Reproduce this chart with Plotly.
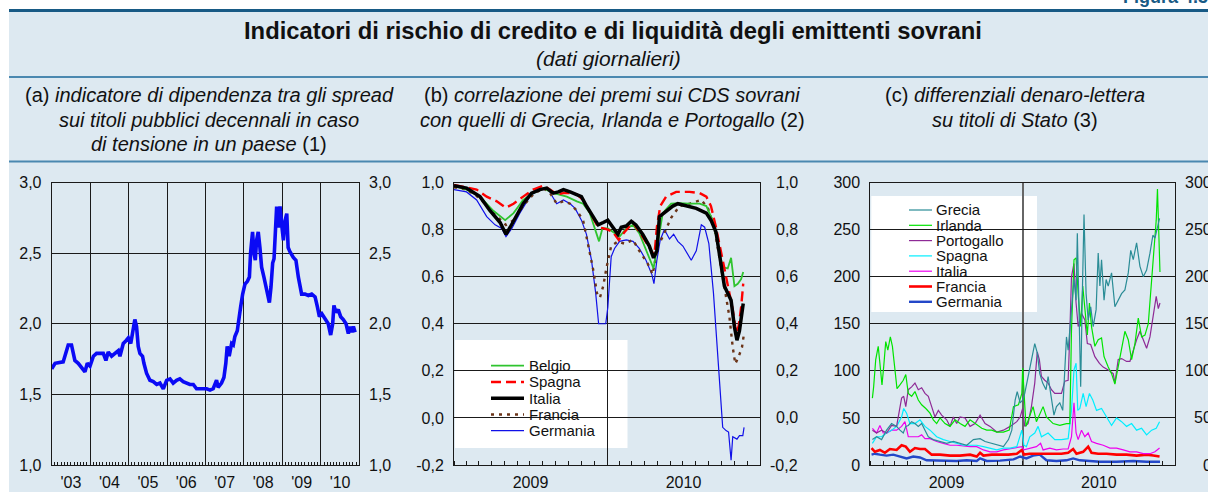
import plotly.graph_objects as go

W, H = 1208, 492
FONT = "Liberation Sans, Arial, Helvetica, sans-serif"

# ---------------- data: panel (a) ----------------
A_DATES = ["2003-01-01","2003-02-02","2003-04-20","2003-06-07","2003-07-08","2003-08-09","2003-09-10","2003-10-27","2003-11-13","2003-12-05","2003-12-31",
           "2004-02-01","2004-03-02","2004-04-03","2004-05-05","2004-05-30","2004-06-21","2004-07-23","2004-08-24","2004-09-25","2004-10-10","2004-11-11","2004-12-07","2004-12-29",
           "2005-01-21","2005-02-09","2005-03-01","2005-03-17","2005-04-02","2005-04-18","2005-05-13","2005-05-26","2005-06-20","2005-07-22","2005-08-23","2005-09-24","2005-10-25","2005-11-26","2005-12-28",
           "2006-01-29","2006-02-28","2006-04-01","2006-05-02","2006-06-03","2006-07-05","2006-08-06","2006-09-07","2006-10-08","2006-11-09","2006-12-11",
           "2007-01-12","2007-02-13","2007-03-15","2007-04-16","2007-05-01","2007-06-02","2007-06-25","2007-07-13","2007-07-26","2007-08-14","2007-09-06","2007-09-22","2007-10-07","2007-10-30","2007-11-18","2007-12-01","2007-12-20",
           "2008-01-11","2008-02-03","2008-02-22","2008-03-04","2008-03-23","2008-04-05","2008-04-18","2008-04-30","2008-05-16","2008-06-01","2008-06-17","2008-07-09","2008-08-04","2008-08-30","2008-09-14","2008-09-30","2008-10-13","2008-10-25","2008-11-07","2008-11-23","2008-12-09","2008-12-28",
           "2009-01-10","2009-01-26","2009-02-11","2009-02-24","2009-03-13","2009-04-14","2009-05-09","2009-06-01","2009-07-02","2009-08-03","2009-09-04","2009-10-06","2009-11-07","2009-11-29","2009-12-18",
           "2010-01-10","2010-01-26","2010-02-20","2010-03-12","2010-04-04","2010-04-23","2010-05-05","2010-05-24","2010-06-15","2010-07-08","2010-08-02","2010-08-28","2010-09-19","2010-10-05","2010-10-20","2010-11-06","2010-11-22"]
A_VALUES = [1.68,1.72,1.73,1.85,1.85,1.74,1.72,1.67,1.66,1.72,1.70,
            1.77,1.79,1.79,1.79,1.74,1.80,1.77,1.79,1.81,1.77,1.86,1.88,1.90,
            1.86,1.95,2.03,1.98,1.84,1.79,1.77,1.72,1.65,1.60,1.59,1.57,1.58,1.54,1.60,
            1.61,1.58,1.60,1.61,1.59,1.58,1.57,1.57,1.54,1.54,1.54,
            1.54,1.53,1.54,1.60,1.55,1.58,1.62,1.72,1.84,1.77,1.86,1.85,1.91,1.95,2.07,2.12,2.21,
            2.28,2.30,2.33,2.50,2.65,2.50,2.45,2.59,2.65,2.54,2.40,2.33,2.23,2.15,2.26,2.43,2.46,2.71,2.83,2.68,2.83,2.68,
            2.59,2.73,2.78,2.54,2.51,2.47,2.45,2.33,2.21,2.21,2.20,2.21,2.19,2.12,2.05,
            2.07,2.05,2.03,2.00,1.92,2.00,2.13,2.08,2.10,2.05,2.03,2.00,1.93,1.98,1.94,1.98,1.94]
A_YTICKS = [1.0, 1.5, 2.0, 2.5, 3.0]

# ---------------- data: panel (b) ----------------
B_BELGIO_DATES = ["2009-01-01","2009-01-31","2009-03-04","2009-04-05","2009-05-03","2009-05-23","2009-06-15","2009-07-09","2009-08-02","2009-08-26","2009-09-07","2009-09-27","2009-10-21","2009-11-05","2009-11-21","2009-12-03","2009-12-13","2009-12-21",
                  "2010-01-03","2010-01-19","2010-01-31","2010-02-16","2010-03-04","2010-03-19","2010-04-08","2010-04-22","2010-05-02","2010-05-14","2010-06-03","2010-06-23","2010-07-17","2010-08-10","2010-08-26","2010-09-10","2010-09-22","2010-10-04","2010-10-16","2010-10-24","2010-11-01","2010-11-09","2010-11-17","2010-11-22"]
B_BELGIO = [0.986,0.97,0.94,0.88,0.84,0.87,0.926,0.955,0.976,0.955,0.95,0.94,0.92,0.91,0.87,0.80,0.75,0.805,
            0.805,0.785,0.77,0.805,0.82,0.785,0.70,0.635,0.74,0.87,0.91,0.912,0.91,0.91,0.90,0.84,0.74,0.64,0.635,0.68,0.56,0.57,0.59,0.62]

B_SPAGNA_DATES = ["2009-01-01","2009-01-31","2009-02-24","2009-03-20","2009-04-13","2009-05-05","2009-05-23","2009-06-15","2009-07-09","2009-08-02","2009-08-18","2009-09-03","2009-09-19","2009-10-05","2009-10-21","2009-11-05","2009-11-25","2009-12-11","2009-12-24",
                  "2010-01-03","2010-01-15","2010-01-29","2010-02-12","2010-03-04","2010-03-23","2010-04-12","2010-04-24","2010-04-30","2010-05-08","2010-05-22","2010-06-15","2010-07-17","2010-08-10","2010-08-26","2010-09-06","2010-09-18","2010-09-30","2010-10-08","2010-10-20","2010-10-28","2010-11-05","2010-11-11","2010-11-17","2010-11-22"]
B_SPAGNA = [0.99,0.98,0.97,0.94,0.92,0.893,0.91,0.94,0.97,0.986,0.97,0.95,0.955,0.955,0.95,0.926,0.86,0.81,0.805,
            0.80,0.79,0.756,0.79,0.83,0.78,0.72,0.69,0.81,0.90,0.94,0.96,0.96,0.955,0.94,0.90,0.81,0.70,0.63,0.53,0.46,0.36,0.39,0.47,0.57]

B_ITALIA_DATES = ["2009-01-01","2009-01-31","2009-03-04","2009-03-28","2009-04-21","2009-05-05","2009-05-15","2009-05-30","2009-06-15","2009-07-05","2009-07-25","2009-08-10","2009-08-26","2009-09-07","2009-09-19","2009-10-05","2009-10-21","2009-11-01","2009-11-13","2009-11-29","2009-12-11","2009-12-23",
                  "2010-01-03","2010-01-15","2010-01-27","2010-02-04","2010-02-16","2010-02-28","2010-03-11","2010-03-27","2010-04-12","2010-04-22","2010-04-30","2010-05-06","2010-05-22","2010-06-07","2010-06-19","2010-07-09","2010-08-02","2010-08-26","2010-09-06","2010-09-18","2010-09-30","2010-10-08","2010-10-16","2010-10-24","2010-11-01","2010-11-07","2010-11-13","2010-11-19","2010-11-22"]
B_ITALIA = [0.986,0.976,0.94,0.88,0.83,0.78,0.81,0.855,0.91,0.955,0.97,0.976,0.955,0.96,0.97,0.96,0.95,0.94,0.90,0.85,0.82,0.83,
            0.84,0.81,0.78,0.81,0.815,0.835,0.82,0.78,0.73,0.68,0.71,0.855,0.876,0.90,0.91,0.90,0.89,0.87,0.84,0.79,0.64,0.56,0.53,0.50,0.386,0.33,0.37,0.45,0.486]

B_FRANCIA_DATES = ["2009-01-01","2009-01-31","2009-03-04","2009-04-05","2009-05-05","2009-05-23","2009-06-15","2009-07-09","2009-08-02","2009-08-18","2009-09-03","2009-09-19","2009-10-05","2009-10-21","2009-11-05","2009-11-17","2009-11-29","2009-12-08","2009-12-15","2009-12-23","2009-12-31",
                   "2010-01-11","2010-01-27","2010-02-12","2010-03-04","2010-03-19","2010-04-08","2010-04-20","2010-05-02","2010-05-14","2010-06-03","2010-06-23","2010-07-17","2010-08-14","2010-08-30","2010-09-14","2010-09-26","2010-10-08","2010-10-20","2010-10-28","2010-11-03","2010-11-11","2010-11-19","2010-11-24"]
B_FRANCIA = [0.98,0.97,0.933,0.87,0.82,0.84,0.90,0.95,0.976,0.955,0.91,0.92,0.91,0.88,0.84,0.73,0.63,0.53,0.51,0.56,0.64,
             0.73,0.75,0.74,0.756,0.71,0.656,0.61,0.73,0.77,0.85,0.90,0.91,0.926,0.89,0.81,0.685,0.556,0.43,0.30,0.23,0.26,0.30,0.36]

B_GERMANIA_DATES = ["2009-01-01","2009-01-31","2009-02-24","2009-03-20","2009-04-09","2009-04-25","2009-05-05","2009-05-19","2009-06-07","2009-07-01","2009-07-25","2009-08-14","2009-09-03","2009-09-19","2009-10-05","2009-10-17","2009-11-01","2009-11-13","2009-11-25","2009-12-05","2009-12-12","2009-12-19","2009-12-29",
                    "2010-01-03","2010-01-11","2010-01-19","2010-01-31","2010-02-16","2010-03-04","2010-03-19","2010-04-04","2010-04-18","2010-04-23","2010-04-30","2010-05-08","2010-05-18","2010-05-30","2010-06-09","2010-06-19","2010-07-01","2010-07-21","2010-08-02","2010-08-14","2010-08-22","2010-09-01","2010-09-12","2010-09-20","2010-09-28","2010-10-04","2010-10-12","2010-10-18","2010-10-24","2010-10-28","2010-11-07","2010-11-13","2010-11-21","2010-11-24"]
B_GERMANIA = [0.97,0.96,0.926,0.855,0.82,0.805,0.77,0.805,0.87,0.94,0.976,0.97,0.91,0.926,0.91,0.89,0.84,0.78,0.67,0.53,0.40,0.40,0.40,
              0.47,0.685,0.72,0.75,0.756,0.75,0.72,0.67,0.61,0.57,0.67,0.756,0.80,0.76,0.78,0.75,0.73,0.67,0.71,0.82,0.81,0.74,0.53,0.315,0.13,-0.04,-0.054,-0.06,-0.18,-0.08,-0.09,-0.075,-0.075,-0.04]
B_YTICKS = [-0.2, 0.0, 0.2, 0.4, 0.6, 0.8, 1.0]

# ---------------- data: panel (c) ----------------
C_GRECIA_DATES = ["2009-01-06","2009-01-16","2009-01-28","2009-02-09","2009-02-21","2009-03-05","2009-03-13","2009-03-21","2009-03-27","2009-04-02","2009-04-10","2009-04-18","2009-04-26","2009-05-04","2009-05-12","2009-05-20","2009-06-01","2009-06-17","2009-07-03","2009-07-19","2009-08-04","2009-08-20","2009-09-05","2009-09-21","2009-10-03","2009-10-19","2009-11-04","2009-11-16","2009-11-28","2009-12-06","2009-12-14","2009-12-19","2009-12-26",
                  "2010-01-01","2010-01-06","2010-01-14","2010-01-22","2010-01-30","2010-02-05","2010-02-11","2010-02-18","2010-02-26","2010-03-03","2010-03-11","2010-03-17","2010-03-23","2010-03-31","2010-04-07","2010-04-12","2010-04-16","2010-04-20","2010-04-24","2010-04-28","2010-05-04","2010-05-09","2010-05-12","2010-05-17","2010-05-20","2010-05-24","2010-05-28","2010-06-02","2010-06-07","2010-06-13","2010-06-19","2010-06-26","2010-07-01","2010-07-05","2010-07-09","2010-07-15","2010-07-20","2010-07-25","2010-08-02","2010-08-10","2010-08-18","2010-08-26","2010-09-03","2010-09-11","2010-09-17","2010-09-23","2010-10-01","2010-10-09","2010-10-17","2010-10-25","2010-11-02","2010-11-09","2010-11-14","2010-11-20","2010-11-25"]
C_GRECIA = [27,30,27,37,44,41,37,34,41,42,46,44,41,44,37,30,27,25,23,25,23,21,27,28,25,23,21,19.5,27,37,69,78,66,
            69,76,94,115,129,119,97,87,80,94,69,53,62,66,58,97,136,122,140,165,197,175,246,154,83,182,266,182,154,168,147,165,225,190,218,175,197,190,204,168,175,182,186,204,228,218,236,211,200,207,225,244,241,253,262]

C_IRLANDA_DATES = ["2009-01-06","2009-01-09","2009-01-14","2009-01-20","2009-01-24","2009-01-29","2009-02-02","2009-02-07","2009-02-12","2009-02-18","2009-02-23","2009-03-01","2009-03-06","2009-03-13","2009-03-21","2009-03-27","2009-04-02","2009-04-10","2009-04-18","2009-04-26","2009-05-04","2009-05-14","2009-05-24","2009-06-01","2009-06-09","2009-06-17","2009-06-29","2009-07-11","2009-07-23","2009-08-04","2009-08-16","2009-08-28","2009-09-09","2009-09-25","2009-10-07","2009-10-19","2009-10-31","2009-11-16","2009-11-30","2009-12-10","2009-12-22","2009-12-30",
                   "2010-01-01","2010-01-04","2010-01-09","2010-01-17","2010-01-26","2010-02-03","2010-02-11","2010-02-19","2010-02-27","2010-03-15","2010-03-31","2010-04-16","2010-04-24","2010-04-28","2010-05-04","2010-05-09","2010-05-14","2010-05-20","2010-05-25","2010-05-30","2010-06-05","2010-06-10","2010-06-15","2010-06-23","2010-07-01","2010-07-09","2010-07-15","2010-07-25","2010-08-02","2010-08-10","2010-08-18","2010-08-26","2010-09-03","2010-09-11","2010-09-19","2010-09-27","2010-10-05","2010-10-13","2010-10-21","2010-10-29","2010-11-06","2010-11-12","2010-11-17","2010-11-20","2010-11-23","2010-11-26"]
C_IRLANDA = [71,83,112,126,108,85,104,131,122,136,126,104,81,85,90,96,76,73,78,69,64,60,55,48,44,50,44,41,48,44,41,48,44,39,37,37,35,35,37,62,64,76,
             103,83,41,51,62,46,55,62,51,44,42,44,44,143,218,220,182,147,190,168,138,172,147,126,133,135,115,104,97,86,104,122,142,133,112,129,156,136,138,150,193,228,260,293,253,205]

C_PORTOGALLO_DATES = ["2009-01-06","2009-01-16","2009-01-28","2009-02-09","2009-02-21","2009-03-05","2009-03-17","2009-03-22","2009-03-27","2009-04-02","2009-04-10","2009-04-18","2009-04-26","2009-05-04","2009-05-12","2009-05-20","2009-05-28","2009-06-05","2009-06-13","2009-06-21","2009-07-03","2009-07-11","2009-07-19","2009-07-27","2009-08-04","2009-08-16","2009-08-28","2009-09-09","2009-09-21","2009-10-03","2009-10-15","2009-10-31","2009-11-16","2009-12-02","2009-12-18","2009-12-26",
                      "2010-01-01","2010-01-06","2010-01-14","2010-01-22","2010-01-30","2010-02-05","2010-02-10","2010-02-15","2010-02-23","2010-03-03","2010-03-11","2010-03-19","2010-03-27","2010-04-04","2010-04-12","2010-04-20","2010-04-24","2010-04-28","2010-05-04","2010-05-09","2010-05-14","2010-05-22","2010-05-30","2010-06-05","2010-06-13","2010-06-23","2010-07-04","2010-07-13","2010-07-25","2010-08-06","2010-08-10","2010-08-18","2010-08-26","2010-09-07","2010-09-15","2010-09-23","2010-10-01","2010-10-09","2010-10-17","2010-10-25","2010-11-02","2010-11-10","2010-11-17","2010-11-22","2010-11-26"]
C_PORTOGALLO = [37,34,37,34,42,41,71,73,62,80,83,87,80,82,76,73,62,51,58,53,48,41,51,44,51,50,41,44,53,44,41,35,37,41,46,51,
                60,41,44,62,87,120,112,94,90,87,80,76,76,76,89,90,140,200,214,172,147,161,154,129,128,115,108,104,101,97,87,112,113,110,110,122,133,142,133,124,136,158,179,166,172]

C_SPAGNA_DATES = ["2009-01-06","2009-01-16","2009-01-28","2009-02-09","2009-02-21","2009-03-05","2009-03-17","2009-03-22","2009-03-29","2009-04-06","2009-04-18","2009-04-30","2009-05-12","2009-05-24","2009-06-09","2009-06-25","2009-07-11","2009-07-27","2009-08-12","2009-08-28","2009-09-13","2009-09-29","2009-10-15","2009-10-31","2009-11-16","2009-12-02","2009-12-18","2009-12-30",
                  "2010-01-04","2010-01-10","2010-01-18","2010-01-30","2010-02-07","2010-02-15","2010-03-03","2010-03-19","2010-04-04","2010-04-20","2010-04-28","2010-05-04","2010-05-09","2010-05-13","2010-05-18","2010-05-26","2010-06-02","2010-06-10","2010-06-18","2010-06-27","2010-07-09","2010-07-21","2010-08-02","2010-08-14","2010-08-26","2010-09-07","2010-09-19","2010-10-01","2010-10-13","2010-10-25","2010-11-06","2010-11-17","2010-11-25"]
C_SPAGNA = [23,30,30,34,37,41,51,60,55,44,44,48,41,37,30,27,25,23,21,21,21,19.5,18,16,18,18,19.5,37,
            21,19.5,30,34,41,30,34,27,27,28,58,101,108,58,60,76,62,76,69,58,60,51,42,50,46,41,44,37,39,32,37,39,46]

C_ITALIA_DATES = ["2009-01-06","2009-01-16","2009-01-24","2009-02-01","2009-02-10","2009-02-21","2009-03-05","2009-03-17","2009-03-25","2009-04-02","2009-04-14","2009-04-26","2009-05-04","2009-05-12","2009-05-24","2009-06-09","2009-06-25","2009-07-11","2009-07-27","2009-08-12","2009-08-28","2009-09-13","2009-09-29","2009-10-15","2009-10-31","2009-11-16","2009-12-02","2009-12-18","2009-12-30",
                  "2010-01-04","2010-01-18","2010-02-03","2010-02-13","2010-02-19","2010-03-07","2010-03-23","2010-04-08","2010-04-20","2010-04-28","2010-05-04","2010-05-09","2010-05-14","2010-05-22","2010-05-30","2010-06-07","2010-06-15","2010-06-27","2010-07-13","2010-07-29","2010-08-14","2010-08-30","2010-09-15","2010-10-01","2010-10-17","2010-11-02","2010-11-14","2010-11-25"]
C_ITALIA = [39,34,42,34,34,37,37,41,46,30,30,30,32,28,28,25,23,21,21,20,19.5,19.5,16,14,14,16,17,18,19.5,
            16,18,19.5,23,16,18,16,17,17,30,66,34,27,37,30,34,25,23,21,18,18,16,14,14,12,12,14,18]

C_FRANCIA_DATES = ["2009-01-04","2009-01-12","2009-01-24","2009-02-05","2009-02-17","2009-03-05","2009-03-17","2009-03-27","2009-04-06","2009-04-18","2009-04-30","2009-05-12","2009-05-28","2009-06-17","2009-07-11","2009-08-04","2009-08-28","2009-09-13","2009-09-21","2009-09-29","2009-10-19","2009-11-08","2009-11-28","2009-12-18","2009-12-30",
                   "2010-01-04","2010-01-18","2010-02-03","2010-02-19","2010-03-15","2010-04-04","2010-04-20","2010-05-02","2010-05-10","2010-05-26","2010-06-07","2010-06-15","2010-07-01","2010-07-21","2010-08-14","2010-09-07","2010-10-01","2010-10-25","2010-11-10","2010-11-25"]
C_FRANCIA = [18,14,16,13,17,16,21,19.5,14,18,17,17,11,11,10,10,11,9,13,10,11,11,11,12,16,
             11,12,12,12,12,12,13,17,12,14,19.5,13,12,12,11,11,10,11,10,9]

C_GERMANIA_DATES = ["2009-01-04","2009-01-12","2009-01-24","2009-02-09","2009-02-25","2009-03-13","2009-03-29","2009-04-14","2009-04-30","2009-05-16","2009-06-09","2009-07-03","2009-07-27","2009-08-20","2009-09-13","2009-09-21","2009-10-07","2009-11-08","2009-12-10","2009-12-26",
                    "2010-01-10","2010-01-26","2010-02-11","2010-02-27","2010-03-23","2010-04-16","2010-05-02","2010-05-18","2010-06-11","2010-07-05","2010-08-14","2010-09-23","2010-10-25","2010-11-26"]
C_GERMANIA = [11,12,11,10,11,9,7,9,8,5,4.6,4.3,4.3,5,4.3,7,4.3,4.6,6,9,
              7,10,11,5,4.3,5,7,5,4.3,3.5,3.5,4.3,3.5,3.5]
C_YTICKS = [0, 50, 100, 150, 200, 250, 300]

# ---------------- geometry helpers (pixels -> paper) ----------------
def fx(p):
    return p / W

def fy(p):
    return 1 - p / H

Y_TOP, Y_BOT = 182.5, 465.0
BOX_A = (51.7, 359.3)
BOX_B = (454.0, 760.0)
BOX_C = (870.3, 1175.0)
AX_COL = "#1a1a1a"

def comma(v, nd=1):
    return f"{v:.{nd}f}".replace(".", ",")

def xaxis(box, rng, fmt, gridcolor, gridwidth, minor_len):
    return dict(domain=[fx(box[0]), fx(box[1])], type="date", range=rng,
                tickmode="linear", tick0=rng[0], dtick="M12", tickformat=fmt,
                ticklabelmode="period",
                # invisible outward major ticks only push the labels down
                ticks="outside", ticklen=3, tickcolor="rgba(0,0,0,0)",
                showgrid=True, gridcolor=gridcolor, gridwidth=gridwidth, showline=True,
                linecolor=AX_COL, linewidth=1, mirror=True, zeroline=False,
                automargin=False,
                tickfont=dict(size=16, color="#111", family=FONT),
                minor=dict(tickmode="linear", tick0=rng[0], dtick="M1", ticks="inside",
                           ticklen=minor_len, tickcolor=AX_COL, tickwidth=1, showgrid=False),
                fixedrange=True)

def yaxis(anchor, rng, vals, texts, tick_inside):
    return dict(domain=[fy(Y_BOT), fy(Y_TOP)], anchor=anchor, range=rng,
                tickmode="array", tickvals=vals, ticktext=texts,
                ticks="inside" if tick_inside else "", ticklen=4, tickcolor=AX_COL,
                showgrid=True, gridcolor=AX_COL, gridwidth=1, showline=True,
                linecolor=AX_COL, linewidth=1, mirror=True, zeroline=False,
                automargin=False, ticklabelstandoff=6,
                tickfont=dict(size=16, color="#111", family=FONT),
                fixedrange=True)

fig = go.Figure()

# ---- panel (a)
fig.add_trace(go.Scatter(x=A_DATES, y=A_VALUES, mode="lines", xaxis="x", yaxis="y",
                         line=dict(color="#0a0af5", width=3.6), showlegend=False))

# ---- panel (b)
B_SERIES = [
    ("Germania", B_GERMANIA_DATES, B_GERMANIA, dict(color="#1010e8", width=1.2)),
    ("Francia", B_FRANCIA_DATES, B_FRANCIA, dict(color="#6b3418", width=2.4, dash="3px,5px")),
    ("Belgio", B_BELGIO_DATES, B_BELGIO, dict(color="#2fc42f", width=1.8)),
    ("Spagna", B_SPAGNA_DATES, B_SPAGNA, dict(color="#ff0000", width=2.4, dash="10px,5px")),
    ("Italia", B_ITALIA_DATES, B_ITALIA, dict(color="#000000", width=3.5)),
]
for name, d, v, ln in B_SERIES:
    fig.add_trace(go.Scatter(x=d, y=v, mode="lines", name=name, xaxis="x2", yaxis="y2",
                             line=ln, showlegend=False))
B_LEGEND_ORDER = ["Belgio", "Spagna", "Italia", "Francia", "Germania"]

# ---- panel (c)
C_SERIES = [
    ("Germania", C_GERMANIA_DATES, C_GERMANIA, dict(color="#2448c8", width=2.4)),
    ("Francia", C_FRANCIA_DATES, C_FRANCIA, dict(color="#ff0000", width=2.6)),
    ("Italia", C_ITALIA_DATES, C_ITALIA, dict(color="#ee00ee", width=1.2)),
    ("Spagna", C_SPAGNA_DATES, C_SPAGNA, dict(color="#00eeff", width=1.2)),
    ("Portogallo", C_PORTOGALLO_DATES, C_PORTOGALLO, dict(color="#8e2a96", width=1.2)),
    ("Irlanda", C_IRLANDA_DATES, C_IRLANDA, dict(color="#00e400", width=1.2)),
    ("Grecia", C_GRECIA_DATES, C_GRECIA, dict(color="#2a8c96", width=1.2)),
]
for name, d, v, ln in C_SERIES:
    fig.add_trace(go.Scatter(x=d, y=v, mode="lines", name=name, xaxis="x3", yaxis="y3",
                             line=ln, showlegend=False))
C_LEGEND_ORDER = ["Grecia", "Irlanda", "Portogallo", "Spagna", "Italia", "Francia", "Germania"]

# ---------------- axes ----------------
layout_axes = dict(
    xaxis=xaxis(BOX_A, ["2003-01-01", "2011-01-01"], "'%y", AX_COL, 1, 3),
    xaxis2=xaxis(BOX_B, ["2009-01-01", "2011-01-01"], "%Y", AX_COL, 1, 4),
    xaxis3=xaxis(BOX_C, ["2009-01-01", "2011-01-01"], "%Y", "#666666", 1.6, 4),
    yaxis=yaxis("x", [1.0, 3.0], A_YTICKS, [comma(v) for v in A_YTICKS], False),
    yaxis2=yaxis("x2", [-0.2, 1.0], B_YTICKS, [comma(v) for v in B_YTICKS], True),
    yaxis3=yaxis("x3", [0, 300], C_YTICKS, [str(v) for v in C_YTICKS], True),
)

shapes = []
annotations = []

# background panel and rules
shapes.append(dict(type="rect", xref="paper", yref="paper", x0=fx(9), x1=1.0, y0=0, y1=fy(10),
                   fillcolor="#dde9f1", line=dict(width=0), layer="below"))
shapes.append(dict(type="line", xref="paper", yref="paper", x0=fx(9), x1=1.0, y0=fy(10.5), y1=fy(10.5),
                   line=dict(color="#175a85", width=3), layer="below"))
for yy in (77, 161.5):
    shapes.append(dict(type="line", xref="paper", yref="paper", x0=fx(9), x1=1.0, y0=fy(yy), y1=fy(yy),
                       line=dict(color="#4a88b0", width=2), layer="below"))

# white blocks behind the legends (hide the gridlines there)
shapes.append(dict(type="rect", xref="paper", yref="paper",
                   x0=fx(BOX_B[0] + 1), x1=fx(627.5), y0=fy(448), y1=fy(340),
                   fillcolor="white", line=dict(width=0), layer="between"))
shapes.append(dict(type="rect", xref="paper", yref="paper",
                   x0=fx(BOX_C[0] + 1), x1=fx(1037), y0=fy(312), y1=fy(196),
                   fillcolor="white", line=dict(width=0), layer="between"))

# legends drawn by hand (compact spacing like the original)
def legend(order, styles, x_line0, x_line1, x_text, y_first, step):
    for i, name in enumerate(order):
        yy = y_first + i * step
        st = styles[name]
        shapes.append(dict(type="line", xref="paper", yref="paper", x0=fx(x_line0), x1=fx(x_line1),
                           y0=fy(yy), y1=fy(yy), line=st, layer="above"))
        annotations.append(dict(text=name, xref="paper", yref="paper", x=fx(x_text), y=fy(yy),
                                xanchor="left", yanchor="middle", showarrow=False,
                                font=dict(size=15, color="#111", family=FONT)))

legend(B_LEGEND_ORDER, {n: ln for n, _, _, ln in B_SERIES}, 491, 524, 527, 365.7, 16.25)
legend(C_LEGEND_ORDER, {n: ln for n, _, _, ln in C_SERIES}, 909, 932, 934, 210, 15.3)

# right-hand tick labels (right aligned as in the original)
def right_labels(yref, vals, texts, x_right):
    for v, t in zip(vals, texts):
        annotations.append(dict(text=t, xref="paper", yref=yref, x=fx(x_right), y=v,
                                xanchor="right", yanchor="middle", showarrow=False,
                                font=dict(size=16, color="#111", family=FONT)))

right_labels("y", A_YTICKS, [comma(v) for v in A_YTICKS], 392.5)
right_labels("y2", B_YTICKS, [comma(v) for v in B_YTICKS], 800)
right_labels("y3", C_YTICKS, [str(v) for v in C_YTICKS], 1213.5)

# titles
def text(t, x, y, size, bold=False, italic=False, color="#111", xanchor="center", yanchor="middle"):
    s = t
    if bold:
        s = f"<b>{s}</b>"
    if italic:
        s = f"<i>{s}</i>"
    annotations.append(dict(text=s, xref="paper", yref="paper", x=fx(x), y=fy(y),
                            xanchor=xanchor, yanchor=yanchor, showarrow=False,
                            font=dict(size=size, color=color, family=FONT)))

text("Figura 4.3", 1121, 9, 18, bold=True, color="#175a85", xanchor="left", yanchor="bottom")
text("Indicatori di rischio di credito e di liquidità degli emittenti sovrani", 613, 31, 23.8, bold=True)
text("(dati giornalieri)", 608, 59, 21, italic=True)

SUB = 20
text("(a) <i>indicatore di dipendenza tra gli spread</i>", 209, 95, SUB)
text("<i>sui titoli pubblici decennali in caso</i>", 209, 120, SUB)
text("<i>di tensione in un paese</i> (1)", 209, 144, SUB)
text("(b) <i>correlazione dei premi sui CDS sovrani</i>", 612, 95, SUB)
text("<i>con quelli di Grecia, Irlanda e Portogallo</i> (2)", 612, 120, SUB)
text("(c) <i>differenziali denaro-lettera</i>", 1015, 95, SUB)
text("<i>su titoli di Stato</i> (3)", 1015, 120, SUB)

fig.update_layout(
    width=W, height=H, autosize=False,
    margin=dict(l=0, r=0, t=0, b=0, pad=0, autoexpand=False),
    paper_bgcolor="white", plot_bgcolor="white",
    font=dict(family=FONT, size=16, color="#111"),
    showlegend=False, shapes=shapes, annotations=annotations,
    **layout_axes,
)

fig.write_html("out.html", config={"displayModeBar": False, "responsive": False},
               post_script="document.body.style.margin='0px';")
